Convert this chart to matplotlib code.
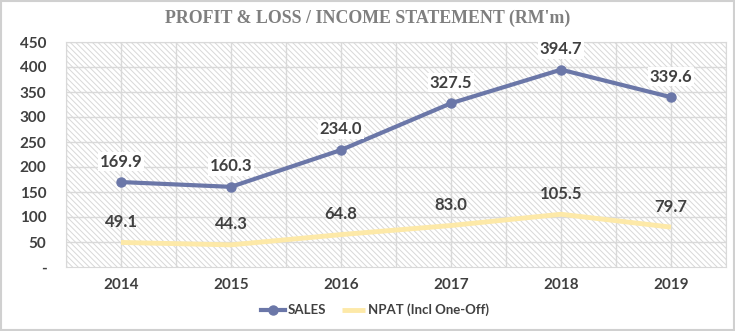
import matplotlib
matplotlib.use("Agg")
import matplotlib.pyplot as plt
from matplotlib.patches import Rectangle
import numpy as np

years = ["2014", "2015", "2016", "2017", "2018", "2019"]
sales = [169.9, 160.3, 234.0, 327.5, 394.7, 339.6]
npat = [49.1, 44.3, 64.8, 83.0, 105.5, 79.7]
yticks = [0, 50, 100, 150, 200, 250, 300, 350, 400, 450]
ytick_labels = ["-", "50", "100", "150", "200", "250", "300", "350", "400", "450"]

SALES_C = "#6b77a8"
NPAT_C = "#fde9a8"
TXT = "#404040"
GRID = "#d9d9d9"
FONT = "Lato"

plt.rcParams['hatch.color'] = "#d8d8d8"
plt.rcParams['hatch.linewidth'] = 0.7

fig = plt.figure(figsize=(7.35, 3.31), dpi=100)
fig.patch.set_facecolor("white")
fig.add_artist(Rectangle((0.002, 0.003), 0.996, 0.994, transform=fig.transFigure,
                         fill=False, edgecolor="#d0d0d0", linewidth=1.5))

ax = fig.add_axes([66/735, 1-267/331, (726-66)/735, (267-42)/331])
x = np.arange(len(years))
ax.set_xlim(-0.5, len(years) - 0.5)
ax.set_ylim(0, 450)

ax.add_patch(Rectangle((0, 0), 1, 1, transform=ax.transAxes, facecolor="white",
                       edgecolor="#d8d8d8", hatch="\\\\\\\\\\\\", linewidth=0, zorder=0))

for yv in yticks[1:]:
    ax.axhline(yv, color=GRID, lw=1, zorder=1)
for xv in np.arange(-0.5, len(years), 0.5):
    ax.axvline(xv, color=GRID, lw=1, zorder=1)
for s in ax.spines.values():
    s.set_color(GRID)

ax.plot(x, npat, color=NPAT_C, lw=3.5, solid_capstyle="butt", zorder=3,
        label="NPAT (Incl One-Off)")
ax.plot(x, sales, color=SALES_C, lw=3, marker="o", markersize=6.5, zorder=4,
        label="SALES")

bbox = dict(boxstyle="square,pad=0.1", facecolor="white", edgecolor="none")
for xi, v in zip(x, sales):
    ax.annotate(f"{v:.1f}", (xi, v), xytext=(0, 9), textcoords="offset points",
                ha="center", va="bottom", fontsize=12, fontweight="bold",
                color=TXT, family=FONT, bbox=bbox, zorder=5)
for xi, v in zip(x, npat):
    ax.annotate(f"{v:.1f}", (xi, v), xytext=(0, 9), textcoords="offset points",
                ha="center", va="bottom", fontsize=12, fontweight="bold",
                color=TXT, family=FONT, zorder=5)

ax.set_xticks(x)
ax.set_xticklabels(years)
ax.set_yticks(yticks)
ax.set_yticklabels(ytick_labels)
ax.tick_params(length=0)
ax.tick_params(axis="x", pad=8)
ax.tick_params(axis="y", pad=14)
for lab in ax.get_xticklabels() + ax.get_yticklabels():
    lab.set_fontfamily(FONT)
    lab.set_fontweight("bold")
    lab.set_fontsize(11)
    lab.set_color(TXT)

fig.text(0.5, 1 - 18/331, "PROFIT & LOSS / INCOME STATEMENT (RM'm)", ha="center",
         va="center", fontsize=12.9, fontweight="bold", color="#7f7f7f",
         family="Liberation Serif")

handles, labels = ax.get_legend_handles_labels()
leg = fig.legend(handles[::-1], labels[::-1], loc="center", bbox_to_anchor=(0.51, 1 - 310/331),
                 ncol=2, frameon=False, handlelength=1.8, handletextpad=0.2,
                 columnspacing=1.2,
                 prop={"family": FONT, "weight": "bold", "size": 9.5})
for t in leg.get_texts():
    t.set_color(TXT)

fig.savefig("out.png", dpi=100)
